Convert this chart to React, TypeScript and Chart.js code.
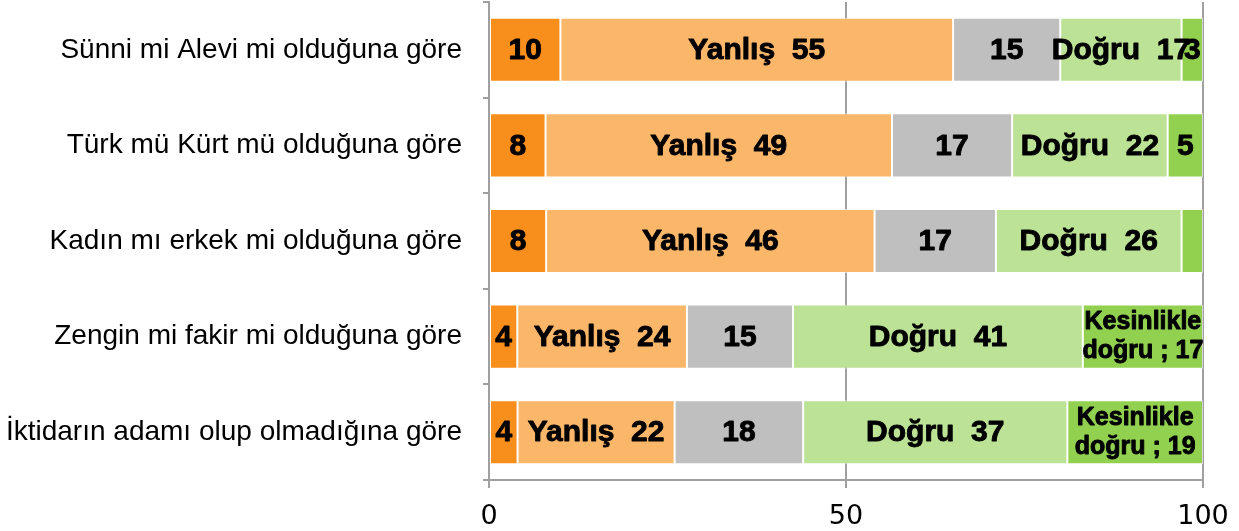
import React, { useEffect, useRef } from "react";
import { Chart, registerables } from "chart.js";

Chart.register(...registerables);

const categories = [
  "Sünni mi Alevi mi olduğuna göre",
  "Türk mü Kürt mü olduğuna göre",
  "Kadın mı erkek mi olduğuna göre",
  "Zengin mi fakir mi olduğuna göre",
  "İktidarın adamı olup olmadığına göre",
];

const seriesNames = ["Kesinlikle yanlış", "Yanlış", "Kararsız", "Doğru", "Kesinlikle doğru"];

const kesinlikleYanlis = [10, 8, 8, 4, 4];
const yanlis = [55, 49, 46, 24, 22];
const kararsiz = [15, 17, 17, 15, 18];
const dogru = [17, 22, 26, 41, 37];
const kesinlikleDogru = [3, 5, 3, 17, 19];

// how each segment's label is shown: "value", "name" (name + value), "stacked" (two-line name ; value), "none"
const labelModes = [
  ["value", "value", "value", "value", "value"],
  ["name", "name", "name", "name", "name"],
  ["value", "value", "value", "value", "value"],
  ["name", "name", "name", "name", "name"],
  ["value", "value", "none", "stacked", "stacked"],
];

const xTicks = [0, 50, 100];

const colors = ["#F88E1B", "#FAB76A", "#BFBFBF", "#BCE295", "#92D050"];

const rawSeries = [kesinlikleYanlis, yanlis, kararsiz, dogru, kesinlikleDogru];
const rowTotals = categories.map((_, i) => rawSeries.reduce((s, arr) => s + arr[i], 0));

const LABEL_FONT = "Liberation Sans, Arial, sans-serif";

const labelPlugin = {
  id: "segmentLabels",
  afterDatasetsDraw(chart: any) {
    const ctx = chart.ctx;
    ctx.save();
    ctx.fillStyle = "#000";
    ctx.strokeStyle = "#000";
    ctx.lineWidth = 0.9;
    ctx.lineJoin = "round";
    ctx.textAlign = "center";
    ctx.textBaseline = "middle";
    const draw = (t: string, x: number, y: number) => {
      ctx.fillText(t, x, y);
      ctx.strokeText(t, x, y);
    };
    chart.data.datasets.forEach((ds: any, di: number) => {
      const meta = chart.getDatasetMeta(di);
      meta.data.forEach((bar: any, i: number) => {
        const mode = labelModes[di][i];
        if (mode === "none") return;
        const p = bar.getProps(["x", "y", "base"], true);
        const cx = (p.x + p.base) / 2;
        const cy = p.y;
        const v = rawSeries[di][i];
        if (mode === "value") {
          ctx.font = `bold 30px ${LABEL_FONT}`;
          draw(String(v), cx, cy + 1);
        } else if (mode === "name") {
          ctx.font = `bold 30px ${LABEL_FONT}`;
          draw(`${seriesNames[di]}  ${v}`, cx, cy + 1);
        } else if (mode === "stacked") {
          const parts = seriesNames[di].split(" ");
          ctx.font = `bold 25px ${LABEL_FONT}`;
          draw(parts[0], cx, cy - 14);
          draw(`${parts.slice(1).join(" ")} ; ${v}`, cx, cy + 15);
        }
      });
    });
    ctx.restore();
  },
};

export default function App() {
  const canvasRef = useRef<HTMLCanvasElement | null>(null);

  useEffect(() => {
    if (!canvasRef.current) return;
    const chart = new Chart(canvasRef.current, {
      type: "bar",
      data: {
        labels: categories,
        datasets: rawSeries.map((arr, di) => ({
          label: seriesNames[di],
          data: arr.map((v, i) => (v / rowTotals[i]) * 100),
          backgroundColor: colors[di],
          borderColor: "rgba(255,255,255,0.55)",
          borderWidth: 1,
          borderSkipped: false,
          barPercentage: 0.67,
          categoryPercentage: 1,
        })),
      },
      options: {
        indexAxis: "y",
        animation: false,
        responsive: true,
        maintainAspectRatio: false,
        layout: { padding: { top: 2, right: 36, left: 0, bottom: 0 } },
        plugins: {
          legend: { display: false },
          tooltip: { enabled: false },
        },
        scales: {
          x: {
            stacked: true,
            min: 0,
            max: 100,
            afterBuildTicks(scale: any) {
              scale.ticks = xTicks.map((v) => ({ value: v }));
            },
            afterFit(scale: any) {
              scale.height = 51;
              scale.paddingLeft = 0;
              scale.paddingRight = 0;
            },
            grid: {
              color: "#A0A0A0",
              lineWidth: 2,
              tickLength: 8,
              drawOnChartArea: true,
            },
            border: { display: true, color: "#A0A0A0", width: 2 },
            ticks: {
              color: "#000",
              padding: 13,
              font: { family: "DejaVu Sans", size: 27 },
            },
          },
          y: {
            stacked: true,
            afterFit(scale: any) {
              scale.width = 489;
              scale.paddingTop = 0;
              scale.paddingBottom = 0;
            },
            grid: {
              offset: true,
              drawOnChartArea: false,
              color: "#A0A0A0",
              lineWidth: 2,
              tickLength: 6,
            },
            border: { display: true, color: "#A0A0A0", width: 2 },
            ticks: {
              color: "#000",
              padding: 21,
              font: { family: "Liberation Sans", size: 28 },
            },
          },
        },
      },
      plugins: [labelPlugin],
    } as any);
    return () => chart.destroy();
  }, []);

  return (
    <div style={{ position: "fixed", left: 0, top: 0, width: 1239, height: 531, background: "#fff" }}>
      <canvas ref={canvasRef} />
    </div>
  );
}
